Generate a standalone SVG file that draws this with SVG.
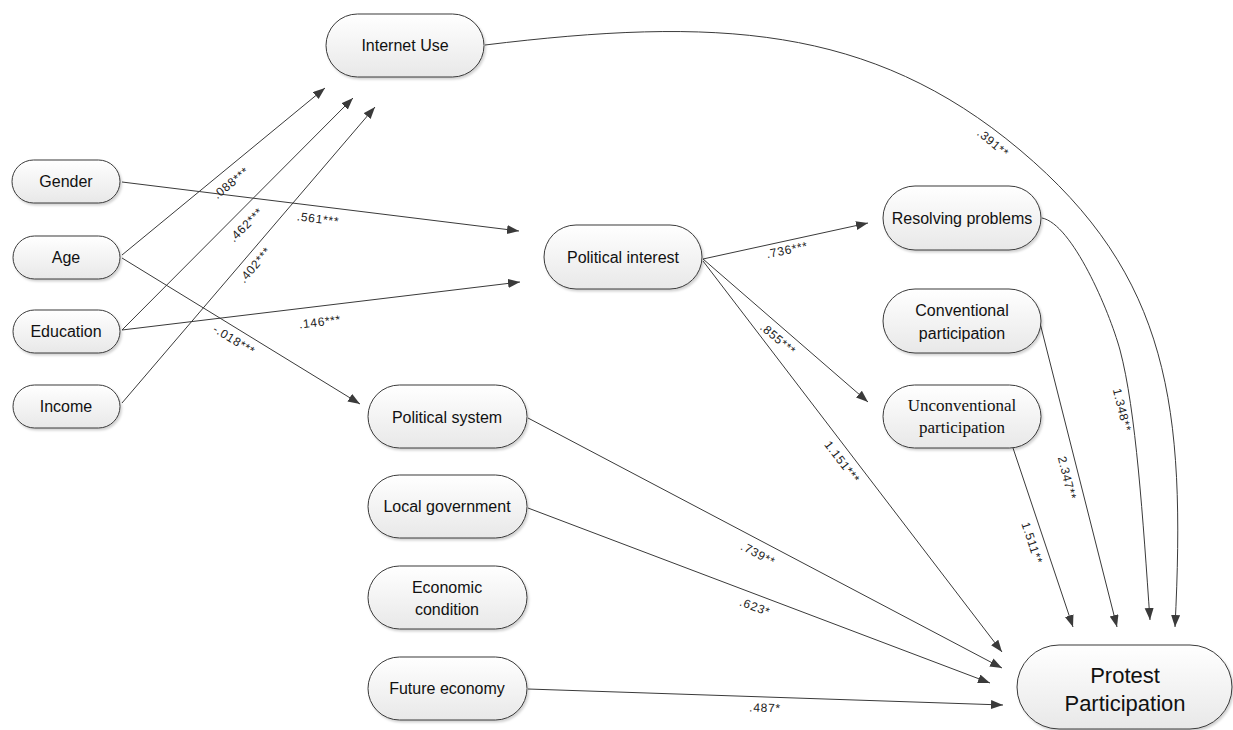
<svg xmlns="http://www.w3.org/2000/svg" width="1233" height="730" viewBox="0 0 1233 730">
<style>
.node rect{fill:url(#g);stroke:#3a3a3a;stroke-width:1;filter:url(#sh)}
.node text{font-family:"Liberation Sans",Arial,sans-serif;font-size:16px;fill:#111;text-anchor:middle}
.node text.serif{font-family:"Liberation Serif","Times New Roman",serif;font-size:17px}
.node text.big{font-size:22px}
.conn path{fill:none;stroke:#3a3a3a;stroke-width:1;marker-end:url(#ah)}
.lbl text{font-family:"Liberation Sans",Arial,sans-serif;font-size:12px;fill:#222;text-anchor:middle;letter-spacing:0.7px}
</style>
<defs>
<linearGradient id="g" x1="0" y1="0" x2="0" y2="1">
<stop offset="0" stop-color="#ffffff"/>
<stop offset="1" stop-color="#e8e8e8"/>
</linearGradient>
<filter id="sh" x="-10%" y="-10%" width="125%" height="135%">
<feDropShadow dx="1.5" dy="2" stdDeviation="1" flood-color="#000" flood-opacity="0.18"/>
</filter>
<marker id="ah" markerUnits="userSpaceOnUse" markerWidth="13" markerHeight="10" refX="12" refY="4.5" orient="auto">
<path d="M0,0 L12,4.5 L0,9 z" fill="#3a3a3a"/>
</marker>
</defs>
<rect width="1233" height="730" fill="#fff"/>

<g id="connectors" class="conn">
<path d="M122,255 L325,88"/>
<path d="M122,330 L353,98"/>
<path d="M122,403 L375,107"/>
<path d="M122,182 L519,231"/>
<path d="M122,330 L520,282"/>
<path d="M122,258 L360,404"/>
<path d="M703,259 L868,223"/>
<path d="M703,259 L868,402"/>
<path d="M703,261 L1002,652"/>
<path d="M528,418 L1002,668"/>
<path d="M528,508 L990,683"/>
<path d="M528,689 L1003,705"/>
<path d="M1013,448 L1073,627"/>
<path d="M1040,323 L1117,627"/>
<path d="M1042,218 C1072,224 1109,310 1120,350 C1136,410 1143,520 1150,620"/>
<path d="M485,45 C715,17 870,24 1020,150 C1170,276 1186,407 1175,627"/>
</g>

<g id="labels" class="lbl">
<text x="231" y="187" transform="rotate(-39.6 231 183)">.088***</text>
<text x="246" y="229" transform="rotate(-45.3 246 225)">.462***</text>
<text x="255" y="269" transform="rotate(-49.6 255 265)">.402***</text>
<text x="318" y="223" transform="rotate(7.1 318 219)">.561***</text>
<text x="320" y="326" transform="rotate(-6.9 320 322)">.146***</text>
<text x="234" y="344" transform="rotate(31.5 234 340)">-.018***</text>
<text x="787" y="254" transform="rotate(-11.9 787 250)">.736***</text>
<text x="778" y="343" transform="rotate(40 778 339)">.855***</text>
<text x="842" y="466" transform="rotate(52.4 842 462)">1.151***</text>
<text x="758" y="558" transform="rotate(27.8 758 554)">.739**</text>
<text x="755" y="611" transform="rotate(20.6 755 607)">.623*</text>
<text x="765" y="712" transform="rotate(1.9 765 708)">.487*</text>
<text x="1032" y="547" transform="rotate(71.5 1032 543)">1.511**</text>
<text x="1067" y="482" transform="rotate(75.8 1067 478)">2.347**</text>
<text x="1122" y="414" transform="rotate(76 1122 410)">1.348**</text>
<text x="993" y="147" transform="rotate(40 993 143)">.391**</text>
</g>

<g id="internet-use" class="node"><rect x="326" y="14" width="158" height="63" rx="31.5"/><text x="405" y="51">Internet Use</text></g>
<g id="gender" class="node"><rect x="12" y="160" width="108" height="43" rx="21.5"/><text x="66" y="187">Gender</text></g>
<g id="age" class="node"><rect x="13" y="236" width="107" height="43" rx="21.5"/><text x="66" y="263">Age</text></g>
<g id="education" class="node"><rect x="13" y="310" width="107" height="43" rx="21.5"/><text x="66" y="337">Education</text></g>
<g id="income" class="node"><rect x="13" y="385" width="107" height="43" rx="21.5"/><text x="66" y="412">Income</text></g>
<g id="political-interest" class="node"><rect x="544" y="225" width="158" height="64" rx="32"/><text x="623" y="263">Political interest</text></g>
<g id="political-system" class="node"><rect x="368" y="385" width="159" height="63" rx="31.5"/><text x="447" y="423">Political system</text></g>
<g id="local-government" class="node"><rect x="368" y="475" width="159" height="63" rx="31.5"/><text x="447" y="512">Local government</text></g>
<g id="economic-condition" class="node"><rect x="368" y="566" width="159" height="63" rx="31.5"/><text x="447" y="593">Economic</text><text x="447" y="615">condition</text></g>
<g id="future-economy" class="node"><rect x="368" y="657" width="159" height="63" rx="31.5"/><text x="447" y="694">Future economy</text></g>
<g id="resolving-problems" class="node"><rect x="883" y="186" width="158" height="64" rx="32"/><text x="962" y="224">Resolving problems</text></g>
<g id="conventional-participation" class="node"><rect x="883" y="289" width="158" height="64" rx="32"/><text x="962" y="316">Conventional</text><text x="962" y="339">participation</text></g>
<g id="unconventional-participation" class="node"><rect x="883" y="385" width="158" height="63" rx="31.5"/><text class="serif" x="962" y="411">Unconventional</text><text class="serif" x="962" y="433">participation</text></g>
<g id="protest-participation" class="node"><rect x="1017" y="645" width="215" height="84" rx="42"/><text class="big" x="1125" y="683">Protest</text><text class="big" x="1125" y="711">Participation</text></g>
</svg>
